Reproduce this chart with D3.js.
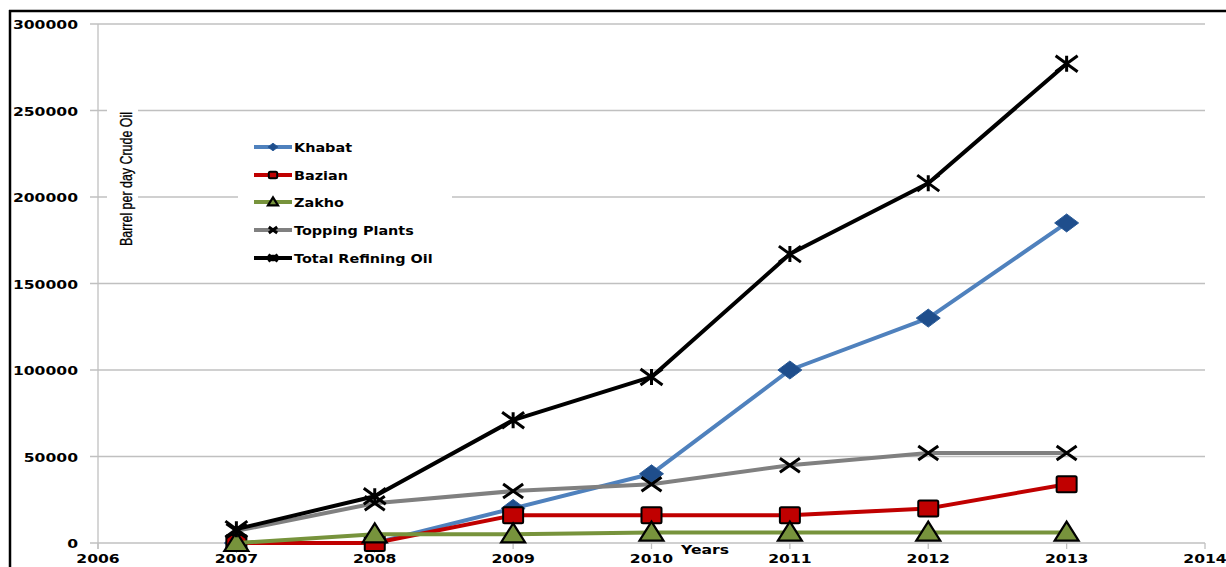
<!DOCTYPE html>
<html><head><meta charset="utf-8">
<script src="https://cdn.jsdelivr.net/npm/d3@7"></script>
<style>body{margin:0;background:#fff}svg{display:block}</style>
</head><body>
<svg id="c" width="1226" height="567"></svg>
<script>
const years = [2007, 2008, 2009, 2010, 2011, 2012, 2013];
const khabat = [0, 0, 20000, 40000, 100000, 130000, 185000];
const bazian = [0, 0, 16000, 16000, 16000, 20000, 34000];
const zakho = [0, 5000, 5000, 6000, 6000, 6000, 6000];
const topping = [7000, 23000, 30000, 34000, 45000, 52000, 52000];
const total = [8000, 27000, 71000, 96000, 167000, 208000, 277000];
const seriesNames = ["Khabat", "Bazian", "Zakho", "Topping Plants", "Total Refining Oil"];
const xTicks = [2006, 2007, 2008, 2009, 2010, 2011, 2012, 2013, 2014];
const yTicks = [0, 50000, 100000, 150000, 200000, 250000, 300000];

const svg = d3.select("#c");
const x = d3.scaleLinear().domain([2006, 2014]).range([98, 1205]);
const y = d3.scaleLinear().domain([0, 300000]).range([543, 24]);
const FONT = "'DejaVu Sans', Verdana, sans-serif";
const SX = 1.2;

function stext(g, tx, ty, str, anchor, size) {
  return g.append("text")
    .attr("transform", `translate(${tx},${ty}) scale(${SX},1)`)
    .attr("text-anchor", anchor).attr("font-family", FONT)
    .attr("font-weight", "bold").attr("font-size", size).attr("fill", "#000").text(str);
}

// gridlines
svg.append("g").selectAll("line").data(yTicks).join("line")
  .attr("x1", 90).attr("x2", 1205).attr("y1", d => y(d)).attr("y2", d => y(d))
  .attr("stroke", "#c0c0c0").attr("stroke-width", 1.3);
// y axis line
svg.append("line").attr("x1", x(2006)).attr("x2", x(2006)).attr("y1", y(300000)).attr("y2", y(0) + 6)
  .attr("stroke", "#c0c0c0").attr("stroke-width", 1.3);
// x ticks
svg.append("g").selectAll("line").data(xTicks).join("line")
  .attr("x1", d => x(d)).attr("x2", d => x(d)).attr("y1", y(0)).attr("y2", y(0) + 6)
  .attr("stroke", "#c0c0c0").attr("stroke-width", 1.3);

// white boxes (axis title, legend)
svg.append("rect").attr("x", 107).attr("y", 100).attr("width", 31).attr("height", 160).attr("fill", "#fff");
svg.append("rect").attr("x", 238).attr("y", 130).attr("width", 214).attr("height", 142).attr("fill", "#fff");

// y tick labels
const gy = svg.append("g");
yTicks.forEach(v => stext(gy, 78, y(v) + 5, String(v), "end", 13));
// x tick labels
const gx = svg.append("g");
xTicks.forEach(v => stext(gx, x(v), 563, String(v), "middle", 13));

// axis titles
svg.append("text").attr("transform", "translate(132,179) rotate(-90)")
  .attr("text-anchor", "middle").attr("font-family", "'Liberation Sans Narrow', 'Liberation Sans', Arial, sans-serif")
  .attr("font-size", 16).attr("textLength", 134).attr("lengthAdjust", "spacingAndGlyphs")
  .attr("fill", "#000").attr("stroke", "#000").attr("stroke-width", 0.3)
  .text("Barrel per day Crude Oil");
stext(svg, 705, 554, "Years", "middle", 13);

// series
const series = [
  {name: seriesNames[0], vals: khabat, line: "#4F81BD", mark: "diamond"},
  {name: seriesNames[1], vals: bazian, line: "#C00000", mark: "square"},
  {name: seriesNames[2], vals: zakho, line: "#77933C", mark: "triangle"},
  {name: seriesNames[3], vals: topping, line: "#808080", mark: "x"},
  {name: seriesNames[4], vals: total, line: "#000000", mark: "star"}
];

function drawMarker(g, type, cx, cy, s) {
  if (type === "diamond") {
    g.append("path").attr("d", `M${cx - 12 * s},${cy} L${cx},${cy - 9 * s} L${cx + 12 * s},${cy} L${cx},${cy + 9 * s} Z`)
      .attr("fill", "#1F4E8C").attr("stroke", "#2a5b98").attr("stroke-width", 1);
  } else if (type === "square") {
    g.append("rect").attr("x", cx - 10 * s).attr("y", cy - 8 * s).attr("width", 20 * s).attr("height", 16 * s)
      .attr("rx", 1.5).attr("fill", "#C00000").attr("stroke", "#000").attr("stroke-width", 2);
  } else if (type === "triangle") {
    g.append("path").attr("d", `M${cx},${cy - 11 * s} L${cx + 12 * s},${cy + 8 * s} L${cx - 12 * s},${cy + 8 * s} Z`)
      .attr("fill", "#77933C").attr("stroke", "#000").attr("stroke-width", 2.2).attr("stroke-linejoin", "miter");
  } else if (type === "x") {
    g.append("path").attr("d", `M${cx - 10 * s},${cy - 7 * s} L${cx + 10 * s},${cy + 7 * s} M${cx - 10 * s},${cy + 7 * s} L${cx + 10 * s},${cy - 7 * s}`)
      .attr("stroke", "#000").attr("stroke-width", 3);
  } else if (type === "star") {
    g.append("path").attr("d", `M${cx - 11 * s},${cy - 8 * s} L${cx + 11 * s},${cy + 8 * s} M${cx - 11 * s},${cy + 8 * s} L${cx + 11 * s},${cy - 8 * s} M${cx},${cy - 8 * s} L${cx},${cy + 8 * s}`)
      .attr("stroke", "#000").attr("stroke-width", 3);
  }
}

const lineGen = d3.line().x(d => x(d[0])).y(d => y(d[1])).curve(d3.curveLinear);
const gs = svg.append("g");
series.forEach(s => {
  const pts = years.map((yr, i) => [yr, s.vals[i]]);
  gs.append("path").datum(pts).attr("d", lineGen).attr("fill", "none")
    .attr("stroke", s.line).attr("stroke-width", 4).attr("stroke-linejoin", "round");
  pts.forEach(p => drawMarker(gs, s.mark, x(p[0]), y(p[1]), 1));
});

// legend
const lg = svg.append("g");
const legY = [147, 175, 202, 230, 258];
series.forEach((s, i) => {
  lg.append("line").attr("x1", 254).attr("x2", 292).attr("y1", legY[i]).attr("y2", legY[i])
    .attr("stroke", s.line).attr("stroke-width", 4);
  drawMarker(lg, s.mark, 273, legY[i], 0.42);
  stext(lg, 294, legY[i] + 4.5, s.name, "start", 12);
});

// outer frame
svg.append("line").attr("x1", 9).attr("x2", 1226).attr("y1", 11).attr("y2", 11).attr("stroke", "#000").attr("stroke-width", 2.5);
svg.append("line").attr("x1", 10).attr("x2", 10).attr("y1", 10).attr("y2", 567).attr("stroke", "#000").attr("stroke-width", 2.5);
</script>
</body></html>
